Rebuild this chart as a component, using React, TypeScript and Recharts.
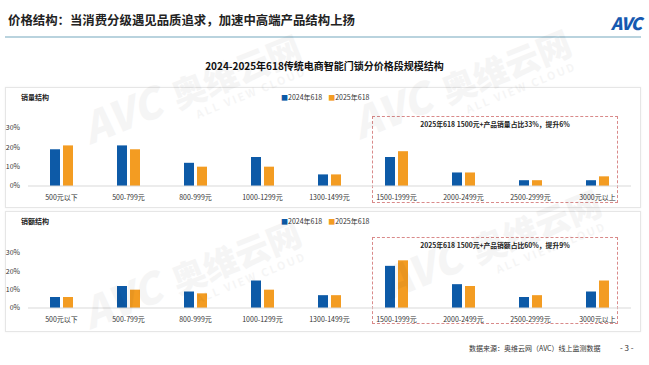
import React from 'react';
import { BarChart, Bar, XAxis, YAxis } from 'recharts';

const categories = [
  '500元以下',
  '500-799元',
  '800-999元',
  '1000-1299元',
  '1300-1499元',
  '1500-1999元',
  '2000-2499元',
  '2500-2999元',
  '3000元以上',
];

// 销量结构 (%)
const volume2024 = [19, 21, 12, 15, 6, 15, 7, 3, 3];
const volume2025 = [21, 19, 10, 10, 6, 18, 7, 3, 5];

// 销额结构 (%)
const sales2024 = [6, 12, 9, 15, 7, 23, 13, 6, 9];
const sales2025 = [6, 10, 8, 10, 7, 26, 12, 7, 15];

const yTicks = [0, 10, 20, 30];
const seriesNames = ['2024年618', '2025年618'];

const BLUE = '#0d5aa7';
const ORANGE = '#f39c22';
const FONT = '"Noto Sans CJK SC", "Noto Sans", sans-serif';

const buildRows = (a: number[], b: number[]) =>
  categories.map((name, i) => ({ name, y2024: a[i], y2025: b[i] }));

interface PanelProps {
  top: number;
  height: number;
  chartTop: number;
  plotHeight: number;
  title: string;
  note: string;
  noteBox: { top: number; height: number };
  data: { name: string; y2024: number; y2025: number }[];
}

const Panel: React.FC<PanelProps> = ({
  top,
  height,
  chartTop,
  plotHeight,
  title,
  note,
  noteBox,
  data,
}) => {
  return (
    <>
      <div
        style={{
          position: 'absolute',
          left: 5,
          top,
          width: 634,
          height,
          border: '1px solid #e6e6e6',
          boxShadow: '0 0 2px rgba(0,0,0,0.06)',
          background: '#fff',
        }}
      />
      <div
        style={{
          position: 'absolute',
          left: 21,
          top: top + 5,
          fontSize: 7,
          fontWeight: 700,
          color: '#222',
        }}
      >
        {title}
      </div>
      <div
        style={{
          position: 'absolute',
          left: 281,
          top: top + 5,
          fontSize: 7,
          color: '#333',
          display: 'flex',
          gap: 6,
        }}
      >
        <span>
          <span style={{ color: BLUE }}>■</span>
          {seriesNames[0]}
        </span>
        <span>
          <span style={{ color: ORANGE }}>■</span>
          {seriesNames[1]}
        </span>
      </div>
      <div
        style={{
          position: 'absolute',
          left: 372,
          top: noteBox.top,
          width: 246,
          height: noteBox.height,
          border: '1px dashed #d98a8a',
          boxSizing: 'border-box',
        }}
      />
      <div
        style={{
          position: 'absolute',
          left: 372,
          width: 246,
          top: noteBox.top + 3,
          textAlign: 'center',
          fontSize: 6.8,
          fontWeight: 700,
          color: '#222',
        }}
      >
        {note}
      </div>
      <div style={{ position: 'absolute', left: 0, top: chartTop }}>
        <BarChart
          width={649}
          height={8 + plotHeight + 24}
          data={data}
          margin={{ top: 8, right: 18, left: 0, bottom: 0 }}
          barSize={10}
          barGap={3}
        >
          <XAxis
            dataKey="name"
            interval={0}
            tickLine={false}
            axisLine={{ stroke: '#d9d9d9' }}
            tick={{ fontSize: 7, fill: '#333' }}
            tickMargin={3}
            height={24}
          />
          <YAxis
            width={28}
            domain={[0, 30]}
            ticks={yTicks}
            tickFormatter={(v: number) => `${v}%`}
            axisLine={false}
            tickLine={false}
            tick={{ fontSize: 7, fill: '#333' }}
          />
          <Bar dataKey="y2024" fill={BLUE} isAnimationActive={false} />
          <Bar dataKey="y2025" fill={ORANGE} isAnimationActive={false} />
        </BarChart>
      </div>
    </>
  );
};

const Watermark: React.FC<{ x: number; y: number }> = ({ x, y }) => (
  <g transform={`translate(${x},${y}) rotate(-22)`} fill="#000" opacity={0.035}>
    <text x={0} y={0} fontSize={42} fontWeight={900} fontStyle="italic" fontFamily={FONT}>
      AVC
    </text>
    <text x={95} y={0} fontSize={34} fontWeight={900} fontFamily={FONT}>
      奥维云网
    </text>
    <text x={110} y={16} fontSize={11} fontWeight={700} fontFamily={FONT} letterSpacing={2}>
      ALL VIEW CLOUD
    </text>
  </g>
);

const App: React.FC = () => {
  return (
    <div
      style={{
        position: 'absolute',
        left: 0,
        top: 0,
        width: 649,
        height: 365,
        background: '#fff',
        fontFamily: FONT,
        overflow: 'hidden',
      }}
    >
      <div
        style={{
          position: 'absolute',
          left: 8,
          top: 11,
          fontSize: 12.4,
          fontWeight: 700,
          color: '#222',
          whiteSpace: 'nowrap',
        }}
      >
        价格结构：当消费分级遇见品质追求，加速中高端产品结构上扬
      </div>
      <div
        style={{
          position: 'absolute',
          right: 8,
          top: 10,
          fontSize: 17,
          fontWeight: 900,
          fontStyle: 'italic',
          color: '#1559b0',
          letterSpacing: -1,
        }}
      >
        AVC
      </div>
      <div
        style={{
          position: 'absolute',
          left: 5,
          top: 36,
          width: 636,
          height: 2,
          background: '#b9d3de',
        }}
      />
      <div
        style={{
          position: 'absolute',
          left: 0,
          width: 649,
          top: 58,
          textAlign: 'center',
          fontSize: 10,
          fontWeight: 700,
          color: '#111',
        }}
      >
        2024-2025年618传统电商智能门锁分价格段规模结构
      </div>

      <Panel
        top={87}
        height={119}
        chartTop={120}
        plotHeight={58}
        title="销量结构"
        note="2025年618  1500元+产品销量占比33%，提升6%"
        noteBox={{ top: 116, height: 87 }}
        data={buildRows(volume2024, volume2025)}
      />
      <Panel
        top={211}
        height={119}
        chartTop={245}
        plotHeight={55}
        title="销额结构"
        note="2025年618  1500元+产品销额占比60%，提升9%"
        noteBox={{ top: 237, height: 87 }}
        data={buildRows(sales2024, sales2025)}
      />

      <svg
        width={649}
        height={365}
        style={{ position: 'absolute', left: 0, top: 0, pointerEvents: 'none' }}
      >
        <Watermark x={90} y={145} />
        <Watermark x={360} y={140} />
        <Watermark x={90} y={330} />
        <Watermark x={390} y={300} />
      </svg>

      <div
        style={{
          position: 'absolute',
          left: 469,
          top: 343,
          fontSize: 7,
          color: '#333',
          whiteSpace: 'nowrap',
        }}
      >
        数据来源：奥维云网（AVC）线上监测数据
      </div>
      <div
        style={{
          position: 'absolute',
          left: 620,
          top: 342,
          fontSize: 8,
          color: '#333',
          whiteSpace: 'nowrap',
        }}
      >
        - 3 -
      </div>
    </div>
  );
};

export default App;
